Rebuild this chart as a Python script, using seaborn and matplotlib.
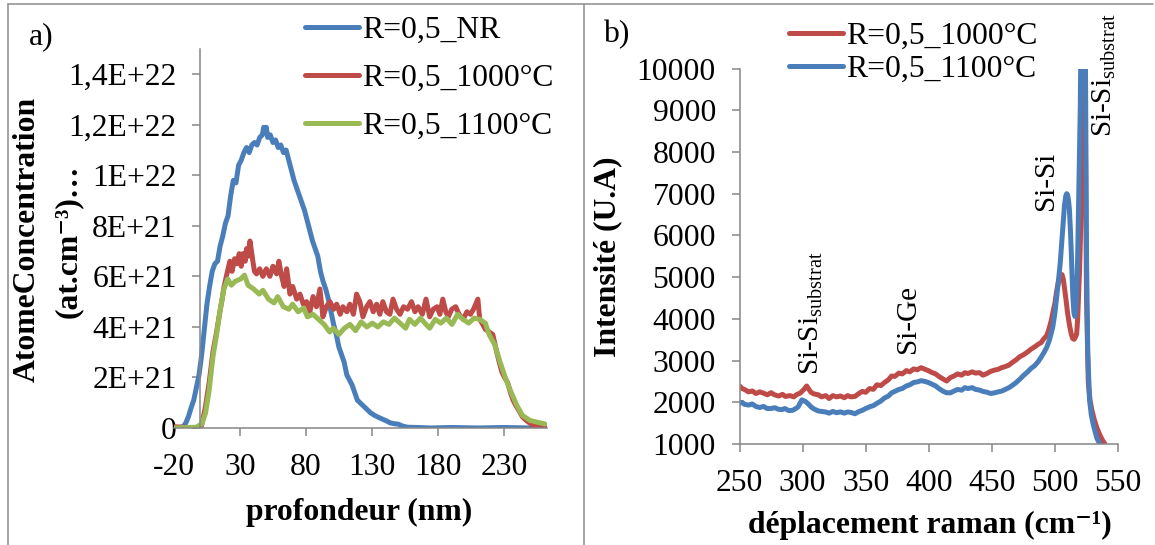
import numpy as np
import pandas as pd
import seaborn as sns
import matplotlib.pyplot as plt
from matplotlib.lines import Line2D

# ---- a) depth profiles, concentration in units of 1E21 at.cm-3
depth_nr = [-20, -16, -13, -11, -9, -7, -5, -3, -1, 1, 3, 5, 7, 9, 11, 13, 15, 17, 19, 21, 23,
            25, 27, 29, 31, 33, 35, 37, 39, 41, 43, 45, 47, 48, 49, 50, 51, 53, 55, 57, 59, 61,
            63, 65, 67, 69, 71, 73, 75, 77, 79, 81, 83, 85, 87, 89, 91, 93, 95, 97, 99, 101,
            103, 105, 107, 109, 111, 113, 115, 117, 119, 121, 123, 125, 127, 129, 132, 135,
            138, 141, 144, 147, 150, 153, 157, 165, 175, 190, 210, 230, 250, 262]
conc_nr = [0, 0.02, 0.05, 0.2, 0.45, 0.8, 1.1, 1.6, 2.1, 2.9, 3.9, 4.9, 5.6, 6.2, 6.5, 6.6,
           7.2, 7.6, 8.1, 8.4, 9.2, 9.8, 9.7, 10.4, 10.6, 10.9, 11.1, 10.9, 11.2, 11.3, 11.2,
           11.5, 11.6, 11.9, 11.7, 11.9, 11.5, 11.6, 11.3, 11.4, 11.1, 11.2, 10.9, 11.0, 10.6,
           10.2, 9.8, 9.5, 9.2, 8.9, 8.6, 8.2, 7.8, 7.4, 7.1, 6.8, 6.2, 5.8, 5.5, 5.1, 4.6,
           4.1, 3.7, 3.2, 2.9, 2.6, 2.1, 1.9, 1.7, 1.4, 1.1, 1.0, 0.9, 0.8, 0.7, 0.6, 0.5,
           0.42, 0.35, 0.28, 0.2, 0.17, 0.15, 0.08, 0.03, 0.02, 0.0, 0.02, 0.0, 0.02, 0.0, 0.0]

depth_1000 = [-20, -10, -3, 1, 3.9, 6.7, 9.5, 12.3, 14.5, 16.5, 18, 19.3, 21, 22.4, 24, 26,
              27.5, 29.5, 31, 32.3, 34, 35, 36.5, 37.6, 39, 39.8, 41, 42.6, 45, 47.4, 50, 52.7,
              55, 57.8, 59.5, 61.6, 63.5, 65.4, 67.9, 70, 73, 75.5, 78, 80.5, 83, 85.4, 88,
              90.6, 92.9, 95.5, 98.2, 101, 103.3, 106, 108, 111, 113.3, 116, 118.4, 120.9,
              123.2, 126, 128.5, 131, 133.6, 136, 138.3, 141, 143.6, 146, 148.7, 151.3, 154,
              157, 160, 162.6, 165, 168.2, 171, 173.8, 176.5, 179.4, 181.5, 183.7, 186, 187.9,
              190.5, 193.5, 196, 199.1, 202, 204.7, 207, 210.3, 211.7, 214, 216, 219, 221.6,
              224.4, 226.5, 228.6, 230.5, 232.8, 235, 237, 239, 241.3, 244, 246.9, 249.5,
              252.5, 256, 259, 262.3]
conc_1000 = [0.05, 0.02, 0.0, 0.1, 0.85, 1.8, 3.0, 3.8, 4.5, 5.1, 5.6, 5.9, 6.3, 6.6, 6.2, 6.7,
             6.5, 6.9, 6.4, 6.9, 6.6, 7.1, 6.8, 7.4, 6.9, 6.6, 6.2, 6.1, 6.3, 6.0, 6.3, 6.0,
             6.4, 6.1, 6.6, 6.0, 5.6, 6.3, 5.3, 5.6, 5.1, 5.3, 4.9, 5.0, 4.6, 5.2, 4.8, 5.5,
             4.4, 4.8, 5.0, 4.7, 4.9, 4.5, 4.8, 4.6, 4.9, 4.5, 5.3, 5.0, 4.4, 4.8, 5.0, 4.6,
             4.9, 4.5, 5.0, 4.6, 4.5, 5.1, 4.7, 4.5, 4.8, 4.7, 5.0, 4.6, 4.8, 4.5, 5.1, 4.4,
             4.7, 4.8, 4.5, 5.1, 4.6, 4.4, 4.7, 4.8, 4.5, 4.3, 4.6, 4.5, 4.7, 5.1, 4.3, 4.1,
             3.9, 3.8, 3.7, 3.05, 2.6, 2.2, 2.0, 1.8, 1.4, 1.1, 0.9, 0.7, 0.45, 0.3, 0.2, 0.1,
             0.05, 0.03, 0.0]

depth_1100 = [-20, -3.1, 1.1, 3.9, 6.7, 9.5, 12.3, 15.1, 17.9, 20.7, 23.5, 26.3, 30.6, 33.4,
              36.2, 40.4, 44.6, 47.4, 51.6, 55.8, 58.6, 62.9, 67.1, 69.9, 74.1, 78.3, 81.1,
              85.3, 89.6, 93.8, 98, 100.8, 105, 109.2, 113.4, 117.6, 121.9, 126.1, 130.3,
              134.5, 138.7, 142.9, 147.1, 151.3, 155.6, 158.4, 162.6, 166.8, 171, 173.8, 178,
              182.2, 186.5, 190.7, 194.9, 199.1, 203.3, 207.5, 211.7, 216, 218.8, 223, 227.2,
              231.4, 235.6, 239.8, 244, 249.7, 255.3, 261]
conc_1100 = [0, 0.03, 0.16, 0.58, 1.5, 2.8, 3.7, 4.7, 5.5, 5.9, 5.65, 5.8, 5.9, 6.05, 5.65,
             5.5, 5.3, 5.45, 5.1, 4.95, 5.2, 4.8, 4.7, 4.9, 4.6, 4.75, 4.4, 4.5, 4.3, 4.1, 3.8,
             3.95, 3.7, 3.95, 4.1, 3.85, 4.2, 4.0, 4.15, 4.0, 4.2, 4.1, 4.35, 4.15, 3.95, 4.3,
             4.1, 4.35, 4.1, 3.95, 4.3, 4.15, 4.35, 4.1, 4.5, 4.3, 4.15, 4.35, 4.3, 4.15, 3.7,
             3.3, 2.6, 1.95, 1.4, 0.9, 0.5, 0.3, 0.23, 0.16]

conc_ticks = [0, 2, 4, 6, 8, 10, 12, 14]
conc_labels = ['0', '2E+21', '4E+21', '6E+21', '8E+21', '1E+22', '1,2E+22', '1,4E+22']
depth_ticks = [-20, 30, 80, 130, 180, 230]

# ---- b) raman spectra
shift_1000 = [250, 252, 254.4, 257, 260.2, 263, 266, 268.9, 272, 275, 277.6, 281, 284, 286.3,
              290, 293, 295, 298, 300.8, 303.2, 306.6, 309, 312.4, 315, 318.3, 321, 324, 327,
              330, 333, 335.7, 338, 341.5, 344, 347.3, 350, 353.1, 356, 358.9, 362, 364.7, 368,
              370.5, 373, 376.3, 379, 382.2, 385, 388, 391, 393.8, 397, 399.6, 402, 405.4, 408,
              411.2, 414.1, 417, 420, 422.8, 426, 428.6, 431, 434.4, 437, 440.2, 443, 446, 449,
              451.9, 455, 457.7, 460, 463.5, 466, 469.3, 472, 475.1, 478, 480.9, 484, 486.7,
              489, 491.1, 493.5, 495.4, 497, 498.3, 500, 501.2, 502.5, 503.6, 504.6, 505.6,
              506.6, 507.6, 509, 510, 511.5, 512.9, 514, 515.2, 516.2, 517.2, 518, 518.7,
              519.4, 520.1, 520.8, 521.6, 522.3, 523, 524, 525, 526.4, 527.8, 529.3, 531,
              533.2, 535.5, 537.5, 539.6]
int_1000 = [2392, 2330, 2300, 2250, 2270, 2210, 2250, 2220, 2180, 2230, 2180, 2150, 2190, 2140,
            2160, 2130, 2180, 2220, 2300, 2390, 2240, 2200, 2180, 2130, 2160, 2090, 2160, 2130,
            2150, 2110, 2160, 2130, 2140, 2200, 2260, 2240, 2330, 2310, 2420, 2400, 2470, 2540,
            2630, 2620, 2700, 2680, 2760, 2730, 2800, 2780, 2830, 2790, 2760, 2720, 2680, 2620,
            2560, 2510, 2590, 2630, 2680, 2650, 2710, 2690, 2730, 2700, 2710, 2650, 2690, 2740,
            2770, 2790, 2830, 2850, 2890, 2950, 3020, 3090, 3140, 3200, 3270, 3330, 3390, 3430,
            3520, 3600, 3770, 3950, 4140, 4380, 4640, 4850, 4980, 5060, 5060, 4950, 4730, 4400,
            4140, 3850, 3640, 3530, 3510, 3560, 3640, 4000, 4560, 5100, 5810, 6800, 7480, 9000,
            11000, 9000, 4500, 2480, 2050, 1810, 1600, 1390, 1220, 1100, 1000]

shift_1100 = [250, 252, 254, 257.3, 260, 263, 266, 269, 272, 274.7, 278, 281, 283.4, 286, 289,
              292.1, 294, 296.5, 299.4, 302.3, 304.5, 306.6, 309, 312.4, 315, 318.3, 321, 324,
              327, 330, 333, 335.7, 338, 341.5, 344, 347.3, 350, 353.1, 356, 358.9, 362, 364.7,
              368, 370.5, 373, 376.3, 379, 382.2, 385, 388, 391, 393.8, 397, 399.6, 402, 405.4,
              408, 411.2, 414, 417, 420, 422.8, 426, 428.6, 431, 434.4, 437, 440.2, 443, 446,
              449, 451.9, 455, 457.7, 460, 463.5, 466, 469.3, 472, 475.1, 478, 480.9, 484,
              486.7, 489, 491.1, 493.5, 495.4, 497, 498.3, 500, 501.2, 502.7, 504.1, 505.3,
              506.5, 507.5, 508.5, 509.3, 510, 510.7, 511.4, 512.2, 512.9, 513.6, 514.3, 515,
              515.8, 516.5, 517.2, 518, 518.7, 519.4, 520.1, 520.8, 521.5, 522.5, 523.5, 524.3,
              525, 526, 527.4, 528.8, 530.3, 531.8, 533.2, 535.5, 538]
int_1100 = [1975, 2000, 1950, 1933, 1960, 1900, 1875, 1900, 1850, 1850, 1870, 1830, 1825, 1850,
            1800, 1808, 1840, 1892, 2058, 2017, 1960, 1892, 1840, 1792, 1780, 1767, 1740, 1780,
            1750, 1770, 1740, 1767, 1760, 1725, 1770, 1808, 1850, 1892, 1920, 1975, 2030, 2100,
            2150, 2225, 2260, 2308, 2330, 2392, 2420, 2475, 2490, 2517, 2500, 2475, 2440, 2392,
            2330, 2267, 2230, 2225, 2270, 2308, 2290, 2350, 2330, 2350, 2310, 2292, 2260, 2242,
            2210, 2225, 2250, 2267, 2300, 2350, 2400, 2475, 2550, 2642, 2720, 2808, 2880, 2975,
            3080, 3183, 3320, 3475, 3650, 3808, 4150, 4475, 4900, 5308, 5800, 6308, 6700, 6933,
            7000, 6975, 6850, 6642, 6150, 5642, 5000, 4475, 4150, 4058, 4200, 4558, 5500, 6642,
            7900, 9142, 11500, 14000, 15000, 13000, 9500, 5500, 3200, 2058, 1700, 1475, 1300,
            1142, 1000, 870]

raman_ticks = [250, 300, 350, 400, 450, 500, 550]
int_ticks = [1000, 2000, 3000, 4000, 5000, 6000, 7000, 8000, 9000, 10000]

blue = '#4a7ebb'
red = '#be4b48'
green = '#98b954'
grey = '#868686'

sns.set_theme(style='ticks')
plt.rcParams['font.family'] = ['Liberation Serif', 'DejaVu Serif']
plt.rcParams['mathtext.fontset'] = 'custom'
plt.rcParams['mathtext.rm'] = 'Liberation Serif'
plt.rcParams['mathtext.bf'] = 'Liberation Serif:bold'
plt.rcParams['axes.unicode_minus'] = False
plt.rcParams['text.color'] = 'black'
plt.rcParams['axes.labelcolor'] = 'black'
plt.rcParams['xtick.color'] = grey
plt.rcParams['ytick.color'] = grey
plt.rcParams['xtick.labelcolor'] = 'black'
plt.rcParams['ytick.labelcolor'] = 'black'

fs = 22.8
lw = 3.6

fig = plt.figure(figsize=(11.55, 5.45), dpi=100)
ax1 = fig.add_axes([0.1506, 0.2147, 0.3229, 0.6954])
ax2 = fig.add_axes([0.6403, 0.1853, 0.3277, 0.6890])

# panel a
sns.lineplot(x=depth_nr, y=conc_nr, ax=ax1, color=blue, lw=lw, label='R=0,5_NR')
sns.lineplot(x=depth_1000, y=conc_1000, ax=ax1, color=red, lw=lw, label='R=0,5_1000°C')
sns.lineplot(x=depth_1100, y=conc_1100, ax=ax1, color=green, lw=lw, label='R=0,5_1100°C')
ax1.set_xlim(-20, 262.6)
ax1.set_ylim(0, 15)
ax1.set_xticks(depth_ticks)
ax1.set_yticks(conc_ticks)
ax1.set_yticklabels(conc_labels)
ax1.spines['left'].set_position(('data', 0))
ax1.set_xlabel('profondeur (nm)', fontsize=fs, fontweight='bold', va='center')
ax1.xaxis.set_label_coords(0.496, -0.224)
ax1.set_ylabel('')
# two-line y title, each line placed on its own
fig.text(0.0234, 0.5615, 'AtomeConcentration', rotation=90, fontsize=fs,
         fontweight='bold', ha='center', va='center')
fig.text(0.0589, 0.5578, '(at.cm⁻³)…', rotation=90, fontsize=fs,
         fontweight='bold', ha='center', va='center')
ax1.legend(loc='upper left', bbox_to_anchor=(0.264, 0.9716), bbox_transform=fig.transFigure,
           frameon=False, fontsize=fs, handlelength=1.7, handletextpad=0.1,
           labelspacing=0.6, borderpad=0, borderaxespad=0)

# panel b
sns.lineplot(x=shift_1000, y=int_1000, ax=ax2, color=red, lw=lw, label='R=0,5_1000°C')
sns.lineplot(x=shift_1100, y=int_1100, ax=ax2, color=blue, lw=lw, label='R=0,5_1100°C')
ax2.set_xlim(250, 550)
ax2.set_ylim(1000, 10000)
ax2.set_xticks(raman_ticks)
ax2.set_yticks(int_ticks)
ax2.set_xlabel('déplacement raman (cm⁻¹)', fontsize=fs, fontweight='bold', va='center')
ax2.xaxis.set_label_coords(0.503, -0.216)
ax2.set_ylabel('Intensité (U.A)', fontsize=fs, fontweight='bold', va='center')
ax2.yaxis.set_label_coords(-0.349, 0.498)
ax2.legend(loc='upper left', bbox_to_anchor=(0.683, 0.9606), bbox_transform=fig.transFigure,
           frameon=False, fontsize=fs, handlelength=1.7, handletextpad=0.1,
           labelspacing=0.14, borderpad=0, borderaxespad=0)

ann = 21
ax2.text(307, 2650, 'Si-Si$_{\\mathrm{substrat}}$', rotation=90, ha='center', va='bottom', fontsize=ann)
ax2.text(383.5, 3180, 'Si-Ge', rotation=90, ha='center', va='bottom', fontsize=ann)
ax2.text(493, 6610, 'Si-Si', rotation=90, ha='center', va='bottom', fontsize=ann)
ax2.text(539, 8360, 'Si-Si$_{\\mathrm{substrat}}$', rotation=90, ha='center', va='bottom', fontsize=ann)

for ax in (ax1, ax2):
    sns.despine(ax=ax)
    ax.spines['left'].set_color(grey)
    ax.spines['bottom'].set_color(grey)
    ax.spines['left'].set_linewidth(1.1)
    ax.spines['bottom'].set_linewidth(1.1)
    ax.tick_params(axis='both', direction='out', length=6, width=1.1, labelsize=fs)
    ax.tick_params(axis='x', pad=12)
    ax.tick_params(axis='y', pad=11)
    ax.set_facecolor('none')

fig.text(0.0355, 0.933, 'a)', fontsize=fs, ha='center', va='center')
fig.text(0.534, 0.936, 'b)', fontsize=fs, ha='center', va='center')

# outer frame and separator
frame_kw = dict(color='#8c8c8c', lw=1.1, transform=fig.transFigure)
fig.add_artist(Line2D([0.0069, 0.998], [0.9927, 0.9927], **frame_kw))
fig.add_artist(Line2D([0.0069, 0.0069], [0, 0.9927], **frame_kw))
fig.add_artist(Line2D([0.5054, 0.5054], [0, 0.9927], **frame_kw))

fig.savefig('out.png', dpi=100)
